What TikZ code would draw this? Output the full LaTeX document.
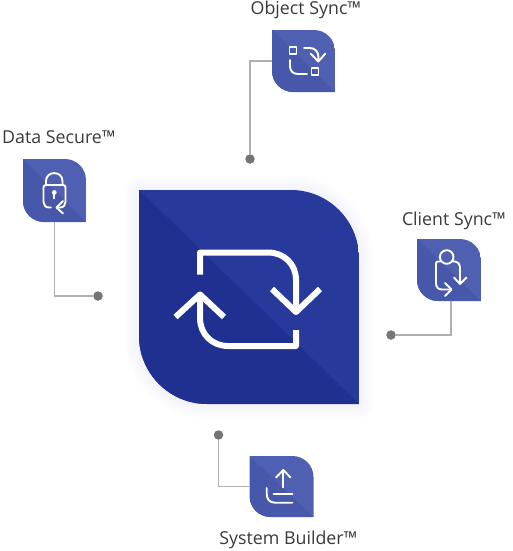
\documentclass[tikz,border=0pt]{standalone}
\usepackage{fontspec}
\setmainfont{Open Sans}
\definecolor{maindark}{HTML}{1F3090}
\definecolor{mainlight}{HTML}{27399B}
\definecolor{tiledark}{HTML}{4757A9}
\definecolor{tilelight}{HTML}{4F5FB1}
\definecolor{wiregray}{HTML}{B0B0B0}
\definecolor{dotgray}{HTML}{757575}
\definecolor{labelgray}{HTML}{3A3A3A}
\tikzset{
  wire/.style={draw=wiregray, line width=1.9pt},
  wiredot/.style={circle, fill=dotgray, inner sep=0pt, minimum size=9.5pt},
  tilebox/.style={inner sep=0pt, minimum width=#1, minimum height=#1},
  tilelabel/.style={text=labelgray, inner sep=0pt, anchor=base, font=\fontsize{17.8}{21}\selectfont},
  glyph/.style={draw=white, line width=1.9pt, line cap=round, line join=round},
  bigglyph/.style={draw=white, line width=6pt, line join=round}
}
% left, top, right, bottom, radius
\newcommand{\leafpath}[5]{
  (#1,#2) -- ({#3-#5},#2)
  .. controls ({#3-0.45*#5},#2) and (#3,{#2+0.45*#5}) .. (#3,{#2+#5})
  -- (#3,#4) -- ({#1+#5},#4)
  .. controls ({#1+0.45*#5},#4) and (#1,{#4-0.45*#5}) .. (#1,{#4-#5})
  -- cycle
}
% left, top, right, bottom, radius, dark colour, light colour
\newcommand{\leaftile}[7]{
  \begin{scope}
    \clip \leafpath{#1}{#2}{#3}{#4}{#5};
    \fill[#7] (#1,#2) rectangle (#3,#4);
    \fill[#6] (#1,#2) -- (#3,#4) -- (#1,#4) -- cycle;
  \end{scope}
}
\begin{document}
\begin{tikzpicture}[x=1pt, y=-1pt]
  \useasboundingbox (0,0) rectangle (513,551);

  % Central tile
  \foreach \w in {2,4,...,30} {
    \draw[maindark, line width=\w pt, opacity=0.004, line join=round] \leafpath{139}{190}{359}{404}{68};
  }
  \leaftile{139}{190}{359}{404}{68}{maindark}{mainlight}
  \node[tilebox=214pt, minimum width=220pt] (maintile) at (249,297) {};
  \draw[bigglyph] (200,274.5) -- (200,252.5) -- (268,252.5)
    .. controls (284,252.5) and (296,264) .. (296,280) -- (296,311);
  \draw[bigglyph] (272,289) -- (296,312) -- (320,289);
  \draw[bigglyph] (296,330) -- (296,346) -- (228,346)
    .. controls (212,346) and (200,334) .. (200,318) -- (200,296);
  \draw[bigglyph] (175.5,317) -- (200,294.5) -- (224,317);

  % Object Sync
  \leaftile{272}{30}{335}{92}{21}{tiledark}{tilelight}
  \node[tilebox=62pt, minimum width=63pt] (objecttile) at (303.5,61) {};
  \node[tilelabel] (objectlabel) at (306,15) {Object Sync™};
  \node[wiredot] (objectdot) at (250,159) {};
  \draw[wire] (objecttile.west) -| (objectdot);
  \draw[glyph] (289.5,47) rectangle (296.5,54);
  \draw[glyph] (311.5,68) rectangle (318.5,75);
  \draw[glyph] (290,60) -- (290,66) .. controls (290,71) and (293,74) .. (298,74) -- (307,74);
  \draw[glyph] (304,48) -- (310,48) .. controls (315,48) and (318.3,52) .. (318.3,56) -- (318.3,61);
  \draw[glyph] (310.5,53.5) -- (318.3,61.5) -- (325.5,53.5);

  % Data Secure
  \leaftile{23}{159}{86}{222}{21}{tiledark}{tilelight}
  \node[tilebox=63pt] (datatile) at (54.5,190.5) {};
  \node[tilelabel] (datalabel) at (59,143) {Data Secure™};
  \node[wiredot] (datadot) at (98,296) {};
  \draw[wire] (datatile.south) |- (datadot);
  \draw[glyph] (46,185) -- (46,181) .. controls (46,170.5) and (62.5,170.5) .. (62.5,181) -- (62.5,185);
  \draw[glyph] (51,207.5) -- (49,207.5) .. controls (45.5,207.5) and (43.5,205) .. (43.5,202)
    -- (43.5,187.5) .. controls (43.5,186) and (44.5,185) .. (46,185) -- (63,185)
    .. controls (64.5,185) and (65.5,186) .. (65.5,187.5) -- (65.5,202)
    .. controls (65.5,205) and (63.5,207.5) .. (60,207.5) -- (57,207.5);
  \draw[glyph] (63,201) -- (56.5,207.5) -- (63,213.5);
  \fill[white] (54.3,192.5) circle (2.4pt);
  \draw[glyph] (54.3,193) -- (54.3,198.5);

  % Client Sync
  \leaftile{417}{239}{481}{301}{21}{tiledark}{tilelight}
  \node[tilebox=62pt, minimum width=64pt] (clienttile) at (449,270) {};
  \node[tilelabel] (clientlabel) at (454,225) {Client Sync™};
  \node[wiredot] (clientdot) at (391,335) {};
  \draw[wire] ([xshift=2pt]clienttile.south) |- (clientdot);
  \draw[glyph] (446.7,257) circle (6.8pt);
  \draw[glyph] (440.5,261.5) -- (438,261.5) .. controls (436.8,261.5) and (436,262.3) .. (436,263.5)
    -- (436,283) .. controls (436,287) and (438,289.5) .. (442,289.5) -- (451,289.5);
  \draw[glyph] (445,283) -- (451.5,289.5) -- (445,296);
  \draw[glyph] (453,261.5) -- (455,261.5) .. controls (458,261.5) and (460,264) .. (460,267) -- (460,283.5);
  \draw[glyph] (454,277.5) -- (460,284) -- (466.5,277.5);

  % System Builder
  \leaftile{249.5}{456}{313.5}{517}{21}{tiledark}{tilelight}
  \node[tilebox=61pt, minimum width=64pt] (systemtile) at (281.5,486.5) {};
  \node[tilelabel] (systemlabel) at (288.5,544.5) {System Builder™};
  \node[wiredot] (systemdot) at (218.5,435) {};
  \draw[wire] (systemtile.west) -| (systemdot);
  \draw[glyph] (283.3,487.5) -- (283.3,470.5);
  \draw[glyph] (276,477.5) -- (283.3,470) -- (290.5,477.5);
  \draw[glyph] (273.5,494.3) -- (292.3,494.3);
  \draw[glyph] (266.7,488) -- (266.7,494) .. controls (266.7,499.5) and (270,502.7) .. (275,502.7) -- (292.3,502.7);
\end{tikzpicture}
\end{document}
